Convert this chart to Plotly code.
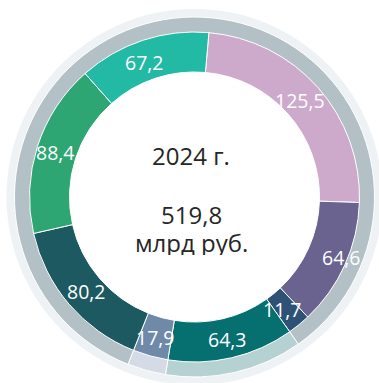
import numpy as np
import plotly.graph_objects as go

# Slices, clockwise from the top
values = [125.5, 64.6, 11.7, 64.3, 17.9, 80.2, 88.4, 67.2]
labels = ["125,5", "64,6", "11,7", "64,3", "17,9", "80,2", "88,4", "67,2"]
colors = ["#cdaacc", "#6a638f", "#2e5276", "#05706f",
          "#6e8aa8", "#1d5961", "#2ea674", "#22b9a5"]

# Outer ring groups (index of group for each slice)
groups = [0, 0, 0, 1, 2, 0, 0, 0]
group_colors = ["#b3c1c7", "#b6d1d2", "#d4dbe6"]

year_text = "2024 г."
total_text = "519,8"
unit_text = "млрд руб."

W, H = 379, 383
CX, CY = 194.5, 197.0          # ring centre in pixels (from top-left)
R_IN, R_MAIN, R_GREY, R_FAINT = 125, 165, 180, 188
ROT = 5.0                      # start angle, degrees clockwise from 12 o'clock

# small nudges (px) for a few value labels
label_dx = {1: 14, 0: -4, 7: -4, 2: -4, 5: 3}
label_dy = {7: 4}

total = sum(values)


def dom(r):
    yb = H - CY
    return dict(x=[(CX - r) / W, (CX + r) / W], y=[(yb - r) / H, (yb + r) / H])


# Outer ring: start it at the first slice of group 1 so group 0 wraps around
first1 = groups.index(1)
outer_rot = ROT + sum(values[:first1]) / total * 360
outer_vals = [sum(v for v, g in zip(values, groups) if g == k) for k in (1, 2, 0)]
outer_cols = [group_colors[1], group_colors[2], group_colors[0]]

fig = go.Figure()
fig.add_trace(go.Pie(
    values=outer_vals, sort=False, direction="clockwise", rotation=outer_rot,
    hole=(R_MAIN - 1) / R_GREY, domain=dom(R_GREY),
    marker=dict(colors=outer_cols, line=dict(color="white", width=1)),
    textinfo="none", hoverinfo="skip", showlegend=False,
))
fig.add_trace(go.Pie(
    values=values, sort=False, direction="clockwise", rotation=ROT,
    hole=R_IN / R_MAIN, domain=dom(R_MAIN),
    marker=dict(colors=colors, line=dict(color="white", width=1)),
    textinfo="none", hoverinfo="skip", showlegend=False,
))

# Faint halo behind the grey ring
yb = H - CY
shapes = [
    dict(type="circle", xref="paper", yref="paper", layer="below",
         x0=(CX - R_FAINT) / W, x1=(CX + R_FAINT) / W,
         y0=(yb - R_FAINT) / H, y1=(yb + R_FAINT) / H,
         fillcolor="#eef2f5", line=dict(width=0)),
    dict(type="circle", xref="paper", yref="paper", layer="below",
         x0=(CX - R_GREY + 1) / W, x1=(CX + R_GREY - 1) / W,
         y0=(yb - R_GREY + 1) / H, y1=(yb + R_GREY - 1) / H,
         fillcolor="white", line=dict(width=0)),
]

# Slice value labels at the middle of each slice
annotations = []
cum = np.cumsum([0] + values[:-1])
r_lab = 146
for i, (v, c, t) in enumerate(zip(values, cum, labels)):
    ang = np.deg2rad(ROT + (c + v / 2) / total * 360)
    px = CX + r_lab * np.sin(ang) + label_dx.get(i, 0)
    py = CY - r_lab * np.cos(ang) + label_dy.get(i, 0)
    annotations.append(dict(
        x=px / W, y=1 - py / H, xref="paper", yref="paper", text=t,
        showarrow=False, xanchor="center", yanchor="middle",
        font=dict(family="Open Sans", size=19.5, color="white"),
    ))

# Centre text (compact boxes so the two lower lines sit tightly)
for txt, py in [(year_text, 155), (total_text, 214), (unit_text, 242)]:
    annotations.append(dict(
        x=191 / W, y=1 - py / H, xref="paper", yref="paper", text=txt,
        showarrow=False, xanchor="center", yanchor="middle",
        height=26, valign="middle",
        font=dict(family="Open Sans", size=24, color="#262626"),
    ))

fig.update_layout(
    width=W, height=H, margin=dict(l=0, r=0, t=0, b=0),
    paper_bgcolor="white", plot_bgcolor="white",
    shapes=shapes, annotations=annotations,
)
fig.write_html("out.html")
